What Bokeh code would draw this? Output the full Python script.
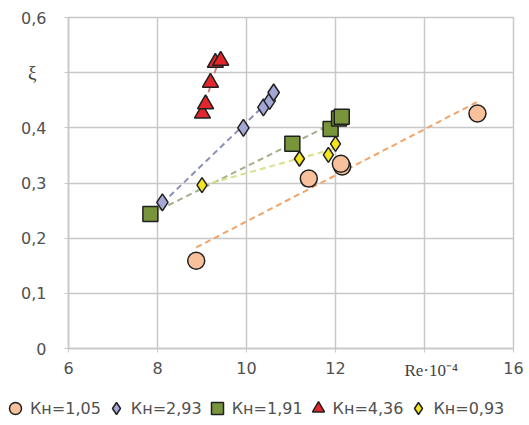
import numpy as np
from bokeh.plotting import figure
from bokeh.layouts import column
from bokeh.models import (Range1d, FixedTicker, CustomJSTickFormatter,
                          Legend, LegendItem, LinearAxis)
from bokeh.embed import file_html
from bokeh.resources import INLINE

# ---- data ----
x_ticks = [6, 8, 10, 12, 14, 16]
y_ticks = [0, 0.1, 0.2, 0.3, 0.4, 0.5, 0.6]

names = ["Кн=1,05", "Кн=2,93", "Кн=1,91", "Кн=4,36", "Кн=0,93"]

re_105 = [8.87, 11.4, 12.15, 12.12, 15.19]
xi_105 = [0.159, 0.308, 0.330, 0.335, 0.426]

re_293 = [8.11, 9.93, 10.38, 10.52, 10.61]
xi_293 = [0.265, 0.400, 0.437, 0.449, 0.464]

re_191 = [7.84, 11.03, 11.89, 12.08, 12.14]
xi_191 = [0.244, 0.371, 0.398, 0.417, 0.420]

re_436 = [9.01, 9.08, 9.19, 9.30, 9.42]
xi_436 = [0.426, 0.443, 0.482, 0.518, 0.522]

re_093 = [9.0, 11.19, 11.84, 12.0]
xi_093 = [0.296, 0.344, 0.351, 0.371]

series = [
    (re_105, xi_105, "circle", 17, "#f8c19b", "#f0a468"),
    (re_293, xi_293, "diamond", 17, "#a4a7d6", "#8c90b8"),
    (re_191, xi_191, "square", 15, "#78953c", "#a4b08c"),
    (re_436, xi_436, "triangle", 16, "#e3262c", "#d08080"),
    (re_093, xi_093, "diamond", 15, "#f3e51d", "#d8e08c"),
]

p = figure(width=527, height=393, output_backend="svg", toolbar_location=None,
           x_range=Range1d(6, 16), y_range=Range1d(0, 0.6),
           frame_width=445, frame_height=331,
           min_border_left=68, min_border_right=14, min_border_top=17,
           min_border_bottom=45)
p.background_fill_color = "white"
p.border_fill_color = "white"
p.outline_line_color = "#c8c8c8"
p.outline_line_width = 1.5

p.xaxis.ticker = FixedTicker(ticks=x_ticks)
p.yaxis.ticker = FixedTicker(ticks=y_ticks)
p.xaxis.formatter = CustomJSTickFormatter(code="return tick == 14 ? '' : tick.toString();")
p.yaxis.formatter = CustomJSTickFormatter(
    code="if (Math.abs(tick) < 1e-9) return '0'; if (Math.abs(tick-0.5) < 1e-9) return ''; return tick.toFixed(1).replace('.', ',');")
for ax in (p.xaxis, p.yaxis):
    ax.axis_line_color = "#c8c8c8"
    ax.axis_line_width = 1.5
    ax.major_tick_line_color = "#c8c8c8"
    ax.major_tick_in = 0
    ax.major_tick_out = 4
    ax.minor_tick_line_color = None
    ax.major_label_text_font = "DejaVu Sans"
    ax.major_label_text_font_size = "16px"
    ax.major_label_text_color = "#505050"
p.xaxis.major_label_standoff = 9
p.yaxis.major_label_standoff = 18
p.xgrid.grid_line_color = "#c8c8c8"
p.ygrid.grid_line_color = "#c8c8c8"
p.xgrid.grid_line_width = 1.5
p.ygrid.grid_line_width = 1.5

# serif axis titles placed in line with the tick labels
xi_axis = LinearAxis(ticker=FixedTicker(ticks=[0.5]),
                     formatter=CustomJSTickFormatter(code="return 'ξ';"),
                     axis_line_color=None, major_tick_line_color=None,
                     minor_tick_line_color=None, major_label_standoff=-24,
                     major_label_text_font="Liberation Serif",
                     major_label_text_font_size="19px",
                     major_label_text_color="#404040")
p.add_layout(xi_axis, "left")

re_axis = LinearAxis(ticker=FixedTicker(ticks=[14.15]),
                     formatter=CustomJSTickFormatter(code="return 'Re·10⁻⁴';"),
                     axis_line_color=None, major_tick_line_color=None,
                     minor_tick_line_color=None, major_label_standoff=-22,
                     major_label_text_font="Liberation Serif",
                     major_label_text_font_size="17px",
                     major_label_text_color="#404040")
p.add_layout(re_axis, "below")

# trend lines (least squares, drawn over the data range of each series)
for xs, ys, marker, size, fill, tcol in series:
    xa = np.array(xs); ya = np.array(ys)
    k, b = np.polyfit(xa, ya, 1)
    xx = np.array([xa.min(), xa.max()])
    p.line(xx, k * xx + b, line_color=tcol, line_width=2, line_dash="6 4")

for xs, ys, marker, size, fill, tcol in series:
    p.scatter(xs, ys, marker=marker, size=size, fill_color=fill,
              line_color="#202020", line_width=1.5)

# legend row (separate strip under the chart)
lf = figure(width=527, height=31, output_backend="svg", toolbar_location=None,
            x_range=Range1d(0, 1), y_range=Range1d(0, 1),
            x_axis_type=None, y_axis_type=None, min_border=0,
            min_border_left=0, min_border_right=0, min_border_top=0,
            min_border_bottom=0)
try:
    lf.frame_align = False
except Exception:
    pass
lf.outline_line_color = None
lf.xgrid.visible = False
lf.ygrid.visible = False
items = []
for (xs, ys, marker, size, fill, tcol), name in zip(series, names):
    # off-range placeholder point: only its style is shown, in the legend
    r = lf.scatter([-5], [-5], marker=marker, size=size, fill_color=fill,
                   line_color="#202020", line_width=1.5)
    items.append(LegendItem(label=name, renderers=[r]))
legend = Legend(items=items, orientation="horizontal", location=(0, 1),
                label_text_font="DejaVu Sans", label_text_font_size="16px",
                label_text_color="#505050", glyph_width=30, glyph_height=30,
                label_standoff=0, spacing=0, padding=0, margin=0,
                border_line_color=None, background_fill_alpha=0)
lf.add_layout(legend)

layout = column(p, lf, spacing=0)
open("out.html", "w").write(file_html(layout, INLINE))
